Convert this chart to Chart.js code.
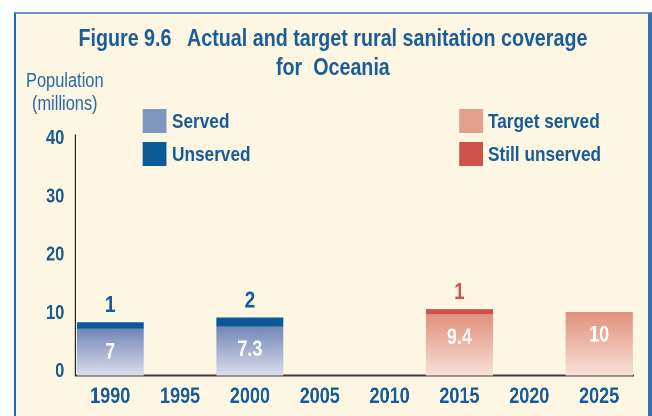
<!DOCTYPE html>
<html>
<head>
<meta charset="utf-8">
<script src="https://cdn.jsdelivr.net/npm/chart.js@4.4.1/dist/chart.umd.min.js"></script>
<style>
  body { margin: 0; width: 652px; height: 416px; overflow: hidden; position: relative; background: #fff;
         font-family: "Liberation Sans", Arial, sans-serif; }
  #frame { position: absolute; left: 14px; top: 12px; width: 632px; height: 420px; background: #fdf6e3;
           border-left: 2px solid #1f69ab; border-top: 2px solid #6c99c4; border-right: 4px solid #2f73b0; }
  /* everything below is laid out wide and squeezed to a condensed look */
  #page { position: absolute; left: 0; top: 0; width: 795px; height: 416px;
          transform: scaleX(0.82); transform-origin: 0 0; }
  #title { position: absolute; left: 0; top: 23px; width: 812px; text-align: center; font-weight: bold;
           font-size: 24px; line-height: 29px; color: #1a5d97; }
  #ycap { position: absolute; left: 19px; top: 69px; width: 120px; text-align: center; font-size: 20px;
          line-height: 23px; color: #2a6aa5; }
  .key { position: absolute; font-weight: bold; font-size: 21px; color: #175c97; line-height: 24px; }
  .key span { position: absolute; left: 0; top: 0; width: 29px; height: 24px; }
  .key b { position: absolute; left: 35.4px; top: 0; white-space: nowrap; }
  #wrap { position: absolute; left: 0; top: 0; width: 795px; height: 416px; }
</style>
</head>
<body>
<div id="frame"></div>
<div id="page">
  <div id="title">Figure 9.6&nbsp;&nbsp; Actual and target rural sanitation coverage<br>for&nbsp; Oceania</div>
  <div id="ycap">Population<br>(millions)</div>
  <div id="legend"></div>
  <div id="wrap"><canvas id="chart" width="795" height="416"></canvas></div>
</div>

<script>
// categories
const years = ["1990", "1995", "2000", "2005", "2010", "2015", "2020", "2025"];

// bar heights as drawn (millions)
const served        = [8.0, null, 8.4, null, null, null, null, null];
const unserved      = [1.15, null, 1.55, null, null, null, null, null];
const targetServed  = [null, null, null, null, null, 10.5, null, 10.9];
const stillUnserved = [null, null, null, null, null, 0.9, null, null];

// numbers printed on the bars
const servedText        = ["7", null, "7.3", null, null, null, null, null];
const unservedText      = ["1", null, "2", null, null, null, null, null];
const targetServedText  = [null, null, null, null, null, "9.4", null, "10"];
const stillUnservedText = [null, null, null, null, null, "1", null, null];

const yTicks = [0, 10, 20, 30, 40];

const FONT = '"Liberation Sans", Arial, sans-serif';
const BLUE = "#175c97";

// gradient per bar, dark at the top fading to pale at the base
function fade(topColor, baseColor) {
  return function (c) {
    const chart = c.chart;
    if (!chart.chartArea || c.raw == null) return topColor;
    const y = chart.scales.y;
    const g = chart.ctx.createLinearGradient(0, y.getPixelForValue(c.raw), 0, y.getPixelForValue(0));
    g.addColorStop(0, topColor);
    g.addColorStop(1, baseColor);
    return g;
  };
}

const datasets = [
  { label: "Served", data: served, valueText: servedText, inside: true,
    key: "#7f96c0", backgroundColor: fade("#7287b7", "#dbdeec") },
  { label: "Unserved", data: unserved, valueText: unservedText, inside: false, textColor: BLUE,
    key: "#0b5a97", backgroundColor: "#0b5a97" },
  { label: "Target served", data: targetServed, valueText: targetServedText, inside: true,
    key: "#e3a08c", backgroundColor: fade("#e2927e", "#f8e0d8") },
  { label: "Still unserved", data: stillUnserved, valueText: stillUnservedText, inside: false, textColor: "#cf514b",
    key: "#cf514b", backgroundColor: "#cf514b" }
];

// legend in two columns (unsqueezed coordinates)
const keyPos = [[174.4, 109], [174.4, 142], [559.8, 109], [559.8, 142]];
const legend = document.getElementById("legend");
datasets.forEach((ds, i) => {
  const d = document.createElement("div");
  d.className = "key";
  d.style.left = keyPos[i][0] + "px";
  d.style.top = keyPos[i][1] + "px";
  d.innerHTML = '<span style="background:' + ds.key + '"></span><b>' + ds.label + "</b>";
  legend.appendChild(d);
});

const barLabels = {
  id: "barLabels",
  afterDatasetsDraw(chart) {
    const ctx = chart.ctx;
    ctx.save();
    ctx.textAlign = "center";
    ctx.textBaseline = "middle";
    chart.data.datasets.forEach((ds, i) => {
      chart.getDatasetMeta(i).data.forEach((bar, j) => {
        const txt = ds.valueText[j];
        if (!txt) return;
        if (ds.inside) {
          ctx.fillStyle = "#ffffff";
          ctx.font = "bold 22px " + FONT;
          ctx.fillText(txt, bar.x, bar.y + 23.5);
        } else {
          ctx.fillStyle = ds.textColor;
          ctx.font = "bold 23px " + FONT;
          ctx.fillText(txt, bar.x, bar.y - 16.5);
        }
      });
    });
    ctx.restore();
  }
};

new Chart(document.getElementById("chart"), {
  type: "bar",
  data: { labels: years, datasets: datasets },
  plugins: [barLabels],
  options: {
    responsive: false,
    animation: false,
    devicePixelRatio: 2,
    events: [],
    layout: { padding: { left: 0, right: 21.8, top: 135, bottom: 0 } },
    datasets: { bar: { categoryPercentage: 1, barPercentage: 0.96, borderWidth: 0 } },
    plugins: { legend: { display: false }, title: { display: false }, tooltip: { enabled: false } },
    scales: {
      x: {
        stacked: true,
        grid: { display: false, drawTicks: false },
        border: { color: "#3d3d3d", width: 2 },
        ticks: { color: BLUE, padding: 8, font: { family: FONT, size: 22, weight: "bold" } },
        afterFit(s) { s.height = 40.5; }
      },
      y: {
        stacked: true,
        min: 0,
        max: 41.3,
        grid: { display: false, drawTicks: false },
        border: { color: "#222222", width: 1.5 },
        afterBuildTicks(s) { s.ticks = yTicks.map(v => ({ value: v })); },
        ticks: { color: BLUE, padding: 13.4, labelOffset: -4, font: { family: FONT, size: 20, weight: "bold" } },
        afterFit(s) { s.width = 91.8; }
      }
    }
  }
});
</script>
</body>
</html>
